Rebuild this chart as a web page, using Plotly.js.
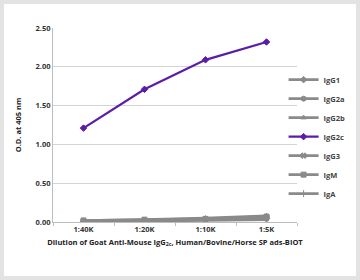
<!DOCTYPE html>
<html><head><meta charset="utf-8">
<script src="https://cdn.plot.ly/plotly-3.0.1.min.js"></script>
<style>html,body{margin:0;padding:0;background:#fff;}#wrap{position:absolute;left:0;top:0;width:360px;height:280px;box-sizing:border-box;border:4px solid #e3e3e3;pointer-events:none;}#chart{position:absolute;left:0;top:0;width:360px;height:280px;}</style>
</head><body>
<div id="chart"></div><div id="wrap"></div>
<script>
const categories = ["1:40K", "1:20K", "1:10K", "1:5K"];
const seriesNames = ["IgG1", "IgG2a", "IgG2b", "IgG2c", "IgG3", "IgM", "IgA"];
const IgG1 = [0.01, 0.02, 0.03, 0.05];
const IgG2a = [0.01, 0.02, 0.03, 0.04];
const IgG2b = [0.02, 0.03, 0.05, 0.08];
const IgG2c = [1.21, 1.71, 2.09, 2.32];
const IgG3 = [0.01, 0.02, 0.04, 0.06];
const IgM = [0.02, 0.03, 0.04, 0.07];
const IgA = [0.00, 0.01, 0.02, 0.03];
const yTicks = [0, 0.5, 1, 1.5, 2, 2.5];

const values = [IgG1, IgG2a, IgG2b, IgG2c, IgG3, IgM, IgA];
const symbols = ["diamond", "circle", "triangle-up", "diamond", "x", "square", "line-ns-open"];
const purple = "#5a1ea6", gray = "#8a8a8a";
const traces = seriesNames.map((n, i) => ({
  x: categories, y: values[i], name: n, type: "scatter", mode: "lines+markers",
  legendrank: i,
  line: {color: n === "IgG2c" ? purple : gray, width: n === "IgG2c" ? 2.2 : 2.6},
  marker: {symbol: symbols[i], size: 5, color: n === "IgG2c" ? purple : gray,
           line: {color: n === "IgG2c" ? purple : gray, width: 1}}
}));
// draw IgG2c last so it sits on top
const order = [0, 1, 2, 4, 5, 6, 3];
const layout = {
  width: 360, height: 280,
  margin: {l: 53, r: 63, t: 28, b: 58, autoexpand: false},
  paper_bgcolor: "#fff", plot_bgcolor: "#fff",
  font: {family: "Open Sans, DejaVu Sans, sans-serif", size: 7.5, color: "#333"},
  showlegend: true,
  legend: {x: 0.945, xanchor: "left", y: 0.44, yanchor: "middle", traceorder: "normal",
           font: {size: 7.5, color: "#444", family: "Open Sans, sans-serif", weight: "bold"},
           itemwidth: 30, tracegroupgap: 0, bgcolor: "rgba(0,0,0,0)"},
  xaxis: {type: "category", categoryorder: "array", categoryarray: categories,
          range: [-0.5, 3.5], showgrid: false, zeroline: false,
          showline: true, linecolor: "#bdbdbd", linewidth: 1,
          ticks: "outside", ticklen: 3, tickcolor: "#bdbdbd", tickson: "boundaries",
          tickfont: {size: 7.5, color: "#333", weight: "bold"},
          title: {text: "Dilution of Goat Anti-Mouse IgG<sub>2c</sub>, Human/Bovine/Horse SP ads-BIOT",
                  font: {size: 7.5, color: "#222", weight: "bold"}, standoff: 6}},
  yaxis: {range: [0, 2.5], tickvals: yTicks, tickformat: ".2f",
          showgrid: true, gridcolor: "#d4d4d4", gridwidth: 1, zeroline: false,
          showline: true, linecolor: "#bdbdbd", linewidth: 1, ticks: "",
          tickfont: {size: 7.5, color: "#333", weight: "bold"},
          title: {text: "O.D. at 405 nm", font: {size: 7.5, color: "#222", weight: "bold"}, standoff: 12}}
};
Plotly.newPlot("chart", order.map(i => traces[i]), layout, {displayModeBar: false, staticPlot: true});
</script>
</body></html>
